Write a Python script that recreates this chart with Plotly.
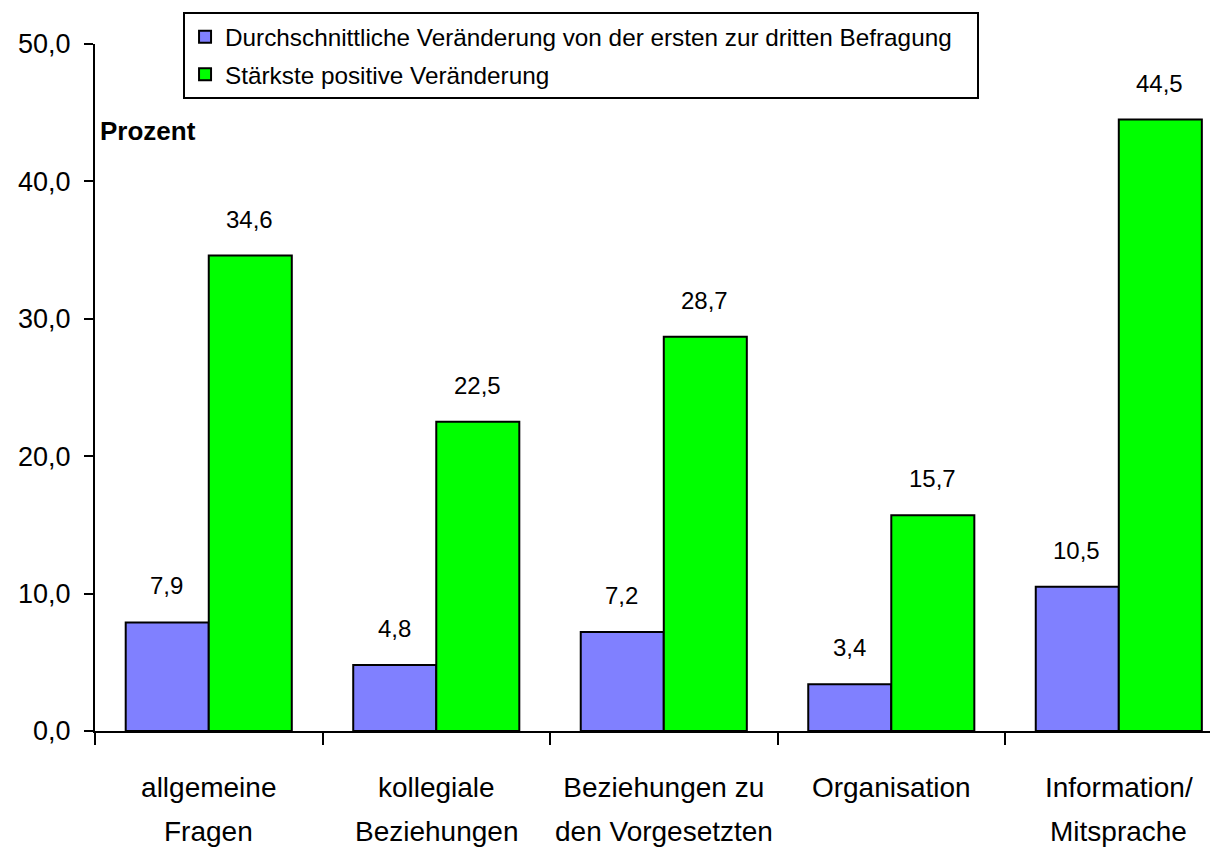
import plotly.graph_objects as go

categories = ["allgemeine Fragen", "kollegiale Beziehungen", "Beziehungen zu den Vorgesetzten",
              "Organisation", "Information/ Mitsprache"]
label_line1 = ["allgemeine", "kollegiale", "Beziehungen zu", "Organisation", "Information/"]
label_line2 = ["Fragen", "Beziehungen", "den Vorgesetzten", "", "Mitsprache"]
series_names = ["Durchschnittliche Veränderung von der ersten zur dritten Befragung",
                "Stärkste positive Veränderung"]
avg_change = [7.9, 4.8, 7.2, 3.4, 10.5]
max_change = [34.6, 22.5, 28.7, 15.7, 44.5]
colors = ["#8080FF", "#00FF00"]
y_ticks = [0, 10, 20, 30, 40, 50]

FONT = "Liberation Sans, Arial, sans-serif"
PAD = "\u00a0" * 3  # extra room at the right side of the legend box

fig = go.Figure()
for i, (name, vals, col) in enumerate(zip(series_names, [avg_change, max_change], colors)):
    fig.add_trace(go.Bar(x=categories, y=vals, name=name + PAD, legendgroup=f"g{i}",
                         marker=dict(color=col, line=dict(color="black", width=2))))

offsets = [-42, 41]
for vals, off in zip([avg_change, max_change], offsets):
    for c, v in zip(categories, vals):
        fig.add_annotation(x=c, y=v, text=f"{v:.1f}".replace(".", ","), showarrow=False,
                           xshift=off, yshift=21, yanchor="bottom",
                           font=dict(family=FONT, size=24, color="black"))

# second line of the category labels
for c, t in zip(categories, label_line2):
    if t:
        fig.add_annotation(x=c, xref="x", yref="paper", y=-0.1204, yanchor="top",
                           text=t, showarrow=False,
                           font=dict(family=FONT, size=28, color="black"))

fig.add_annotation(xref="paper", yref="paper", x=0.003, y=0.874, xanchor="left", yanchor="middle",
                   text="<b>Prozent</b>", showarrow=False,
                   font=dict(family=FONT, size=26, color="black"))

fig.update_layout(
    width=1210, height=840,
    margin=dict(l=87, r=0, t=36, b=117),
    paper_bgcolor="white", plot_bgcolor="white",
    barmode="group", bargap=0.27, bargroupgap=0,
    separators=",.",
    font=dict(family=FONT, size=26, color="black"),
    showlegend=True,
    legend=dict(x=0.0784, y=1.046, xanchor="left", yanchor="top",
                bordercolor="black", borderwidth=2, bgcolor="white",
                font=dict(family=FONT, size=24.3, color="black"),
                tracegroupgap=3, itemclick=False),
    xaxis=dict(range=[-0.5, 4.436], showline=True, linecolor="black", linewidth=2,
               ticks="outside", tickson="boundaries", ticklen=12, tickwidth=2, tickcolor="black",
               tickvals=categories, ticktext=label_line1, ticklabelstandoff=30,
               showgrid=False, tickfont=dict(family=FONT, size=28)),
    yaxis=dict(range=[0, 50], tickvals=y_ticks, tickformat=".1f", showline=True, linecolor="black",
               linewidth=2, ticks="outside", ticklen=9, tickwidth=2, tickcolor="black",
               ticklabelstandoff=8,
               showgrid=False, zeroline=False, tickfont=dict(family=FONT, size=27)),
)

fig.write_html("out.html")
